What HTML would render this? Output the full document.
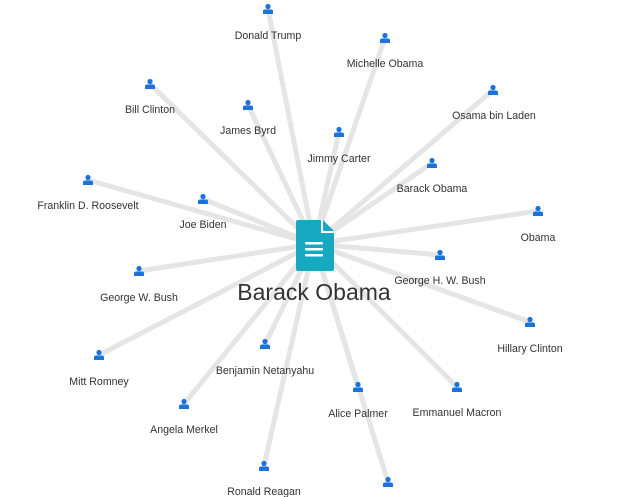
<!DOCTYPE html>
<html><head><meta charset="utf-8"><style>
html,body{margin:0;padding:0;background:#fff;}
svg{display:block;}
text{font-family:"Liberation Sans",Arial,sans-serif;font-size:10.6px;fill:#333;text-anchor:middle;}
</style></head><body>
<svg width="620" height="497" viewBox="0 0 620 497">
<defs>
<g id="p"><circle cx="0" cy="-2.5" r="2.6" fill="#1a73d9"/><path d="M-5,5 L-5,2.5 Q-5,0.5 -3,0.5 L3,0.5 Q5,0.5 5,2.5 L5,5 Z" fill="#1a73d9"/></g>
</defs>
<g stroke="#e5e5e5" stroke-width="5" stroke-linecap="round">
<line x1="314" y1="244" x2="268" y2="9"/>
<line x1="314" y1="244" x2="385" y2="38"/>
<line x1="314" y1="244" x2="150" y2="84"/>
<line x1="314" y1="244" x2="248" y2="105"/>
<line x1="314" y1="244" x2="493" y2="90"/>
<line x1="314" y1="244" x2="339" y2="132"/>
<line x1="314" y1="244" x2="432" y2="163"/>
<line x1="314" y1="244" x2="88" y2="180"/>
<line x1="314" y1="244" x2="203" y2="199"/>
<line x1="314" y1="244" x2="538" y2="211"/>
<line x1="314" y1="244" x2="440" y2="255"/>
<line x1="314" y1="244" x2="139" y2="271"/>
<line x1="314" y1="244" x2="530" y2="322"/>
<line x1="314" y1="244" x2="265" y2="344"/>
<line x1="314" y1="244" x2="99" y2="355"/>
<line x1="314" y1="244" x2="358" y2="387"/>
<line x1="314" y1="244" x2="457" y2="387"/>
<line x1="314" y1="244" x2="184" y2="404"/>
<line x1="314" y1="244" x2="264" y2="466"/>
<line x1="314" y1="244" x2="388" y2="482"/>
</g>
<g>
<use href="#p" x="268" y="9"/><text x="268" y="39">Donald Trump</text>
<use href="#p" x="385" y="38"/><text x="385" y="67">Michelle Obama</text>
<use href="#p" x="150" y="84"/><text x="150" y="113">Bill Clinton</text>
<use href="#p" x="248" y="105"/><text x="248" y="134">James Byrd</text>
<use href="#p" x="493" y="90"/><text x="494" y="119">Osama bin Laden</text>
<use href="#p" x="339" y="132"/><text x="339" y="162">Jimmy Carter</text>
<use href="#p" x="432" y="163"/><text x="432" y="192">Barack Obama</text>
<use href="#p" x="88" y="180"/><text x="88" y="209">Franklin D. Roosevelt</text>
<use href="#p" x="203" y="199"/><text x="203" y="228">Joe Biden</text>
<use href="#p" x="538" y="211"/><text x="538" y="241">Obama</text>
<use href="#p" x="440" y="255"/><text x="440" y="284">George H. W. Bush</text>
<use href="#p" x="139" y="271"/><text x="139" y="301">George W. Bush</text>
<use href="#p" x="530" y="322"/><text x="530" y="352">Hillary Clinton</text>
<use href="#p" x="265" y="344"/><text x="265" y="374">Benjamin Netanyahu</text>
<use href="#p" x="99" y="355"/><text x="99" y="385">Mitt Romney</text>
<use href="#p" x="358" y="387"/><text x="358" y="417">Alice Palmer</text>
<use href="#p" x="457" y="387"/><text x="457" y="416">Emmanuel Macron</text>
<use href="#p" x="184" y="404"/><text x="184" y="433">Angela Merkel</text>
<use href="#p" x="264" y="466"/><text x="264" y="495">Ronald Reagan</text>
<use href="#p" x="388" y="482"/>
</g>
<g>
<path d="M298,220 L322,220 L334,232 L334,269 Q334,271 332,271 L298,271 Q296,271 296,269 L296,222 Q296,220 298,220 Z" fill="#17a9c0"/>
<path d="M321,219 L321,233 L335,233 Z" fill="#fff"/>
<path d="M323,220 L323,230 Q323,231 324,231 L334,231 Z" fill="#17a9c0"/>
<rect x="305" y="242" width="18" height="2.5" fill="#fff" rx="1"/>
<rect x="305" y="248" width="18" height="2.5" fill="#fff" rx="1"/>
<rect x="305" y="254" width="18" height="2.5" fill="#fff" rx="1"/>
</g>
<text x="314" y="300" style="font-size:23px;fill:#333">Barack Obama</text>
</svg>
</body></html>
